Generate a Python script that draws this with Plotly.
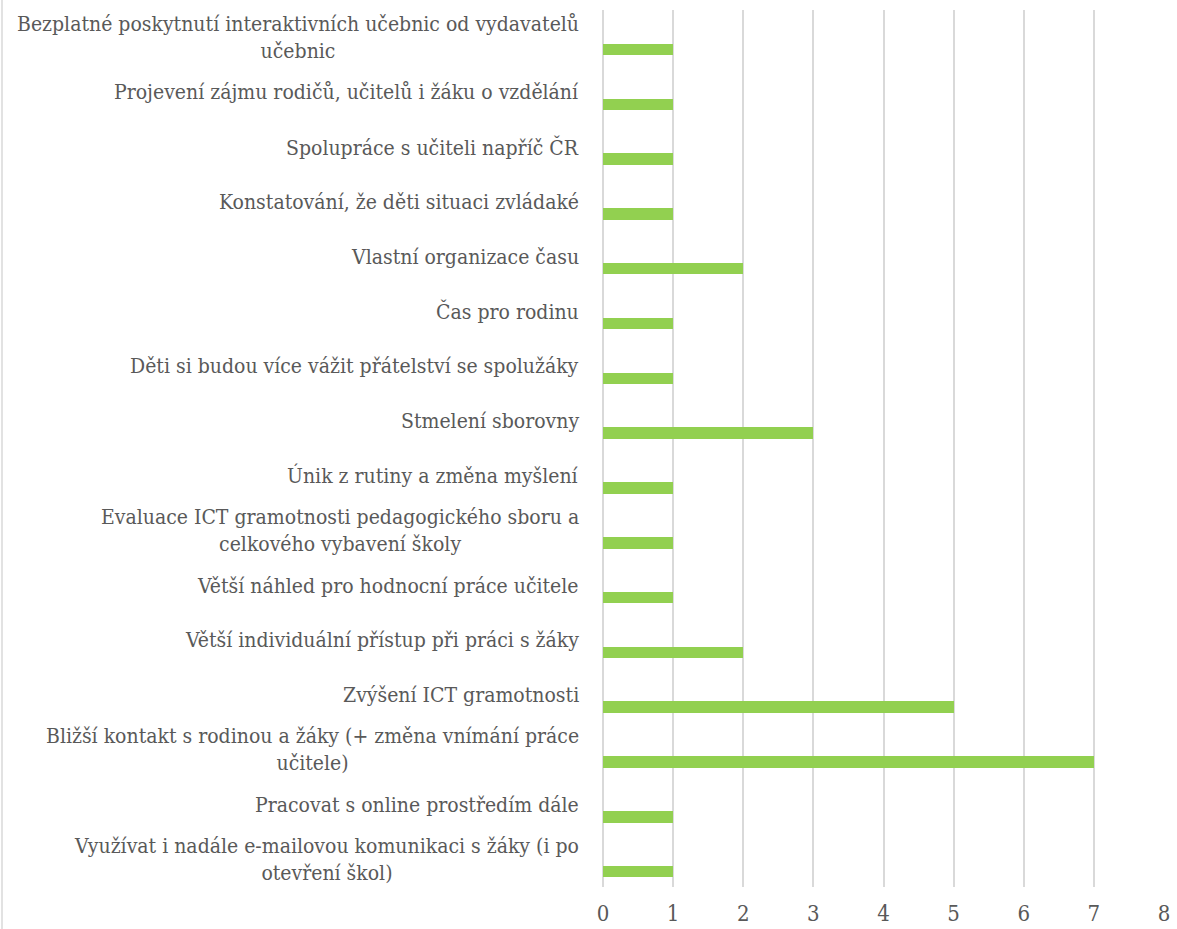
import plotly.graph_objects as go

categories = [
    "Bezplatné poskytnutí interaktivních učebnic od vydavatelů<br>učebnic",
    "Projevení zájmu rodičů, učitelů i žáku o vzdělání",
    "Spolupráce s učiteli napříč ČR",
    "Konstatování, že děti situaci zvládaké",
    "Vlastní organizace času",
    "Čas pro rodinu",
    "Děti si budou více vážit přátelství se spolužáky",
    "Stmelení sborovny",
    "Únik z rutiny a změna myšlení",
    "Evaluace ICT gramotnosti pedagogického sboru a<br>celkového vybavení školy",
    "Větší náhled pro hodnocní práce učitele",
    "Větší individuální přístup při práci s žáky",
    "Zvýšení ICT gramotnosti",
    "Bližší kontakt s rodinou a žáky (+ změna vnímání práce<br>učitele)",
    "Pracovat s online prostředím dále",
    "Využívat i nadále e-mailovou komunikaci s žáky (i po<br>otevření škol)",
]
values = [1, 1, 1, 1, 2, 1, 1, 3, 1, 1, 1, 2, 5, 7, 1, 1]
x_ticks = [0, 1, 2, 3, 4, 5, 6, 7, 8]

FONT = "DejaVu Serif Condensed, DejaVu Serif"
FS = 21
GRAY = "#595959"
GRID = "#d9d9d9"

fig = go.Figure()
fig.add_trace(go.Bar(
    y=categories,
    x=values,
    orientation="h",
    marker=dict(color="#92D050", line=dict(width=0)),
    width=0.21,
    offset=0.115,
    hoverinfo="x+y",
))

annotations = []
for c in categories:
    annotations.append(dict(
        x=0, xref="paper", xanchor="right", xshift=-22,
        y=c, yref="y", yanchor="middle",
        text=c, showarrow=False, align="center",
        font=dict(family=FONT, size=FS, color=GRAY),
    ))

W, H = 1177, 929
ml, mr, mt, mb = 603, 13, 10, 42
pw = W - ml - mr
ph = H - mt - mb

fig.update_layout(
    template="none",
    width=W, height=H,
    margin=dict(l=ml, r=mr, t=mt, b=mb, pad=0),
    plot_bgcolor="white", paper_bgcolor="white",
    showlegend=False,
    annotations=annotations,
    font=dict(family=FONT, size=FS, color=GRAY),
    shapes=[dict(
        type="line", xref="paper", yref="paper",
        x0=(2 - ml) / pw, x1=(2 - ml) / pw,
        y0=-mb / ph, y1=1 + mt / ph,
        line=dict(color=GRID, width=1.5),
    )],
    bargap=0,
)
fig.update_xaxes(
    automargin=False,
    range=[0, 8], tickvals=x_ticks, ticktext=[str(t) for t in x_ticks],
    showgrid=True, gridcolor=GRID, gridwidth=1.5,
    zeroline=True, zerolinecolor=GRID, zerolinewidth=1.5,
    showline=False, ticks="outside", ticklen=7, tickcolor="rgba(0,0,0,0)",
    tickfont=dict(family=FONT, size=22, color=GRAY),
)
fig.update_yaxes(
    automargin=False,
    range=[15.5, -0.5], showticklabels=False, showgrid=False,
    zeroline=False, showline=False, ticks="",
)

fig.write_html("out.html", config={"displayModeBar": False},
               post_script="document.body.style.margin='0px';")
